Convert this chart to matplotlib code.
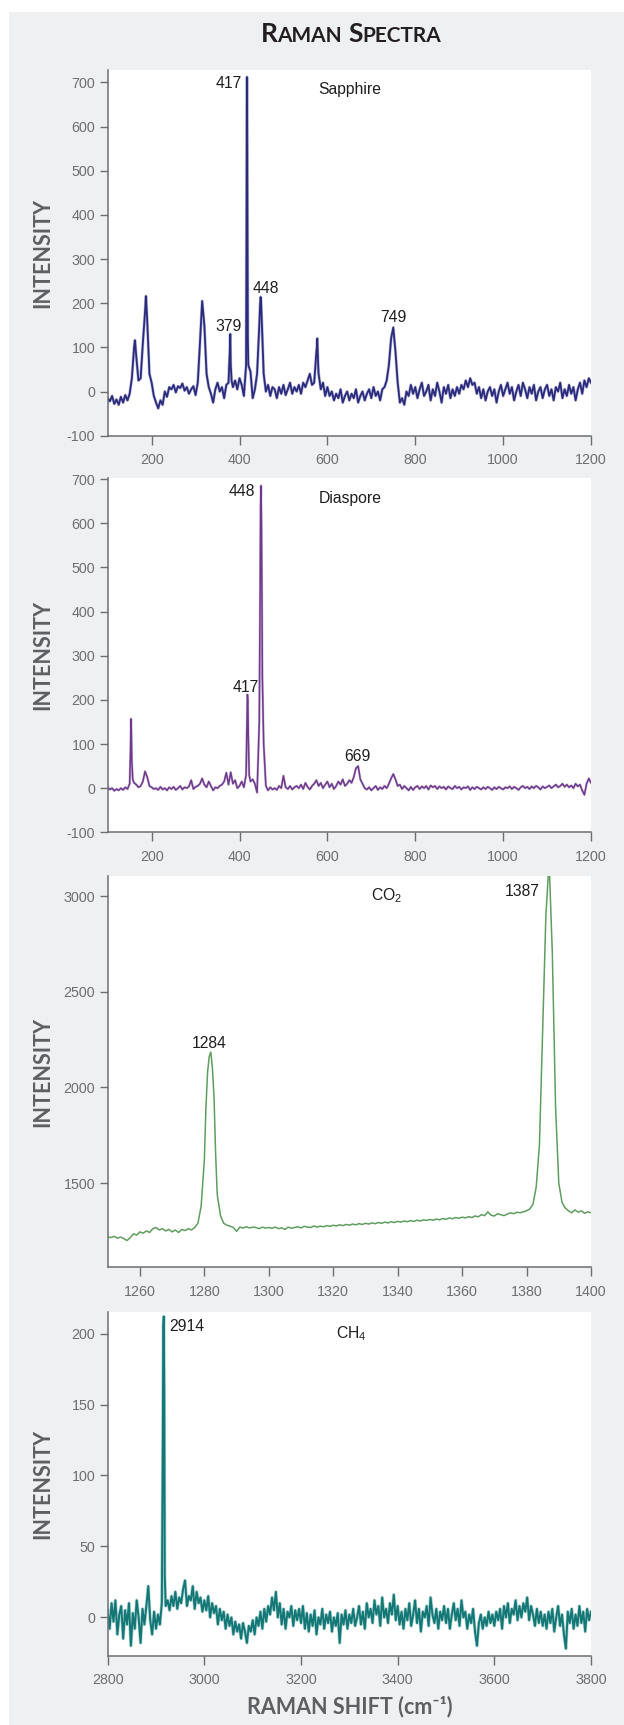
import numpy as np
import matplotlib
matplotlib.use('Agg')
import matplotlib.pyplot as plt
from matplotlib.patches import Rectangle

plt.rcParams['font.family'] = ['Liberation Sans', 'DejaVu Sans']
plt.rcParams['axes.unicode_minus'] = False

# ---- Sapphire (grid every 5 cm-1, plus extra points on the sharp peaks)
sapphire_shift = np.arange(100, 1201, 5)
sapphire_int = [
    -15, -22, -10, -28, -18, -30, -12, -25, -8, -20, -5, 30, 100, 80, 25, 30, 110, 180, 160, 40,
    20, -10, -25, -38, -20, -30, 0, -12, 10, 5, 15, -2, 12, 8, 18, 2, 10, -5, 5, 12,
    -8, 20, 110, 205, 150, 40, 10, -5, -25, 5, 20, 0, 10, -15, 15, 20, 60, 10, 25, 5,
    30, 15, -10, 60, 60, 45, -15, 5, 40, 150, 180, 40, 0, 15, -10, 10, 5, -15, 10, -5,
    15, -8, 5, 20, -5, 10, 0, 15, -5, 20, 10, 25, 40, 15, 20, 90, 40, 5, 20, -10,
    10, -10, 0, -20, -5, -15, 5, -25, -10, 0, -20, -5, -15, 5, -25, -10, 0, -20, -5, 5,
    -15, 10, -10, 0, -20, 5, 10, 25, 60, 120, 145, 90, 20, -25, -15, -30, 0, -10, 15, -5,
    10, -15, 5, 20, -10, 0, 15, -20, 5, -10, 20, 0, -25, 10, -5, 15, -15, 5, -10, 10,
    -5, 15, 5, 25, 10, 30, 15, 20, -5, 10, -15, 5, -20, 0, 10, -10, 5, -25, 0, 15,
    -10, 5, 20, -5, 10, -20, 0, 15, -10, 20, 5, -15, 10, -5, 15, -20, 0, 10, -15, 5,
    15, -10, 5, -20, 10, 0, 20, -15, 5, -10, 15, -5, 10, -20, 5, 20, -5, 25, 10, 30, 20,
]
sapphire_peak_shift = [162, 187, 378, 379, 382, 416, 417, 418, 419, 447, 448, 449, 576, 577, 579]
sapphire_peak_int = [116, 216, 95, 130, 25, 350, 712, 400, 120, 200, 214, 205, 100, 120, 60]

# ---- Diaspore
diaspore_shift = np.arange(100, 1201, 5)
diaspore_int = [
    2, -3, 0, -6, -2, -5, 0, -4, 2, -2, 10, 60, 12, 8, 2, 5, 15, 38, 25, 5,
    2, -2, 0, -4, 3, -3, 0, -5, 2, -2, 3, -4, 0, 5, -3, 2, 0, 4, 18, -2,
    3, 5, 10, 22, 8, 2, 15, 5, -5, 2, 0, 5, 8, 15, 35, 8, 36, 10, 18, 0,
    5, 15, 2, 30, 120, 15, 20, 10, -10, 150, 600, 100, 5, -5, 2, -3, 0, -4, 5, 0,
    28, 2, -2, 5, -3, 2, 5, 0, 8, -2, 12, 3, -3, 5, 10, 18, 5, 12, 0, 8,
    15, 2, 10, -2, 5, 15, 8, 20, 5, 10, 18, 12, 25, 45, 50, 20, 10, 0, -3, 2,
    -5, 0, 5, -4, 2, -2, 5, 0, 10, 22, 32, 20, 5, 8, -2, 5, 0, -5, 3, -4,
    2, 5, -2, 4, 0, 5, -3, 6, 2, 5, -2, 4, 0, 3, -3, 4, 0, -2, 5, 0,
    3, -3, 2, 0, 4, -4, 2, -2, 3, 0, -3, 2, -2, 3, 0, -4, 2, -2, 3, 0,
    -3, 2, 0, 4, -2, 3, 0, -4, 2, 5, 0, 3, -2, 4, 0, 5, 2, -3, 4, 0,
    3, 6, 0, 4, 8, 2, 5, 10, 3, 8, 2, 6, 0, 10, 4, 8, -5, -15, 10, 22, 12,
]
diaspore_peak_shift = [152, 153, 154, 157, 416, 418, 419, 422, 447, 448, 449, 451, 452]
diaspore_peak_int = [90, 157, 120, 20, 90, 212, 200, 30, 450, 640, 685, 450, 250]

# ---- CO2 (grid every 1 cm-1)
co2_shift = np.arange(1250, 1401, 1)
co2_int = [
    1220, 1215, 1222, 1212, 1218, 1210, 1200, 1215, 1235, 1228,
    1245, 1238, 1250, 1242, 1262, 1268, 1255, 1262, 1250, 1258,
    1245, 1255, 1242, 1258, 1252, 1262, 1255, 1268, 1290, 1380,
    1620, 2080, 2185, 1950, 1440, 1330, 1290, 1280, 1275, 1268,
    1248, 1270, 1265, 1272, 1266, 1270, 1268, 1262, 1270, 1265,
    1268, 1264, 1270, 1262, 1266, 1258, 1270, 1264, 1268, 1272,
    1266, 1274, 1270, 1268, 1276, 1270, 1275, 1272, 1278, 1274,
    1280, 1276, 1282, 1278, 1284, 1280, 1286, 1282, 1288, 1284,
    1290, 1286, 1292, 1288, 1294, 1290, 1296, 1292, 1298, 1294,
    1300, 1296, 1302, 1298, 1304, 1300, 1306, 1302, 1308, 1305,
    1310, 1306, 1312, 1308, 1315, 1311, 1318, 1314, 1320, 1316,
    1322, 1318, 1325, 1320, 1328, 1324, 1335, 1330, 1350, 1332,
    1328, 1340, 1335, 1330, 1338, 1345, 1340, 1348, 1345, 1350,
    1355, 1365, 1390, 1480, 1700, 2300, 2900, 3180, 2700, 1900,
    1500, 1400, 1370, 1355, 1345, 1360, 1348, 1355, 1342, 1350,
    1345,
]
co2_peak_shift = [1280.5, 1281.5, 1282.5, 1283.5]
co2_peak_int = [1900, 2160, 2100, 1650]

# ---- CH4 (grid every 4 cm-1)
ch4_shift = np.arange(2800, 3801, 4)
ch4_int = [
    5, -8, 10, -3, 12, -12, 2, 8, -15, 5, -5, 10, -20, 3, -8, 12, 0, -18, 6, -5, 8, 22, -2, -12, 4,
    -8, 2, -5, 10, 212, 8, 12, 5, 15, 8, 18, 6, 14, 10, 20, 26, 8, 15, 12, 22, 6, 18, 10, 14, 4,
    12, 5, 15, 0, 10, 3, 8, -5, 6, -2, 4, -8, 2, -6, 0, -12, -3, -10, -5, -15, -4, -10, -18, -6, -10,
    -2, -12, 0, -6, 4, -8, 6, -3, 8, 2, 14, 5, 18, 0, 10, -5, 6, -8, 4, 0, 8, -6, 5, -2, 6,
    -4, 8, -8, 3, -10, 2, -6, 5, -12, 0, -5, 6, -8, 2, -4, 4, -10, 0, -6, 3, -18, 2, -5, 5, -8,
    2, -4, 6, -6, 0, 8, -5, 4, -8, 10, 0, 6, -4, 12, 2, 8, -6, 14, 0, 6, -4, 10, 2, 16, -2,
    8, -5, 4, -8, 6, -2, 10, -6, 2, 12, -4, 6, -10, 4, 0, 8, -6, 14, 2, -4, 6, -8, 4, -2, 8,
    -4, 6, -8, 2, 10, -2, 6, -6, 12, 0, 4, -8, 2, -4, 6, -10, -20, -4, 2, -8, 0, -6, 4, -4, 2,
    -6, 4, -2, 6, -8, 8, 0, 10, -4, 6, 2, 12, -2, 8, 0, 10, 4, 14, -2, 8, 2, -6, 6, -4, 4,
    -6, 2, -8, 4, -4, 6, -10, 0, 8, -6, 2, -12, -22, 4, -4, 6, -8, 2, -6, 8, -4, 4, -10, 6, -2,
    4,
]
ch4_peak_shift = [2914, 2915, 2917, 2918]
ch4_peak_int = [120, 205, 160, 30]


def merge(xg, yg, xe, ye):
    x = np.concatenate([np.asarray(xg, float), np.asarray(xe, float)])
    y = np.concatenate([np.asarray(yg, float), np.asarray(ye, float)])
    order = np.argsort(x, kind='stable')
    return x[order], y[order]


W, H = 624, 1725
fig = plt.figure(figsize=(W / 100, H / 100), dpi=100)
fig.patch.set_facecolor('white')
fig.patches.append(Rectangle((9 / W, 0), 1 - 9 / W, 1 - 12 / H, transform=fig.transFigure,
                             facecolor='#eff0f2', edgecolor='none', zorder=-10))

axis_gray = '#6d6e71'
left, width = 107.7 / W, (591 - 107.7) / W


def make_axes(top_px, bottom_px):
    ax = fig.add_axes([left, 1 - bottom_px / H, width, (bottom_px - top_px) / H])
    ax.set_facecolor('white')
    for s in ['top', 'right']:
        ax.spines[s].set_visible(False)
    for s in ['left', 'bottom']:
        ax.spines[s].set_color(axis_gray)
        ax.spines[s].set_linewidth(1.1)
    ax.tick_params(axis='both', direction='out', color=axis_gray, labelcolor=axis_gray,
                   labelsize=10.3, width=1.0)
    ax.tick_params(axis='y', length=6, pad=3)
    ax.tick_params(axis='x', length=6.5, pad=6)
    # y label
    fig.text(42.3 / W, 1 - (top_px + bottom_px) / 2 / H, 'INTENSITY', rotation=90,
             ha='center', va='center', fontsize=15.5, fontweight='bold',
             family=['Lato', 'DejaVu Sans'], color='#5e5f63')
    return ax


def label(ax, x, y, s, ha='center'):
    ax.text(x, y, s, ha=ha, va='baseline', fontsize=11.3, color='#1e1e1e')


# Panel 1 - Sapphire
ax1 = make_axes(70, 435.7)
x, y = merge(sapphire_shift, sapphire_int, sapphire_peak_shift, sapphire_peak_int)
ax1.plot(x, y, color='#6a6ab5', lw=2.2, alpha=0.45, solid_joinstyle='round')
ax1.plot(x, y, color='#2b2b7c', lw=1.3)
ax1.set_xlim(100, 1200)
ax1.set_ylim(-100, 728)
ax1.set_xticks([200, 400, 600, 800, 1000, 1200])
ax1.set_yticks(range(-100, 701, 100))
label(ax1, 406, 688, '417', 'right')
label(ax1, 580, 673, 'Sapphire', 'left')
label(ax1, 429, 222, '448', 'left')
label(ax1, 404, 138, '379', 'right')
label(ax1, 751, 158, '749')

# Panel 2 - Diaspore
ax2 = make_axes(478.3, 832.3)
x, y = merge(diaspore_shift, diaspore_int, diaspore_peak_shift, diaspore_peak_int)
ax2.plot(x, y, color='#9a72b5', lw=1.8, alpha=0.45)
ax2.plot(x, y, color='#6e3a8c', lw=1.1)
ax2.set_xlim(100, 1200)
ax2.set_ylim(-100, 702)
ax2.set_xticks([200, 400, 600, 800, 1000, 1200])
ax2.set_yticks(range(-100, 701, 100))
label(ax2, 436, 661, '448', 'right')
label(ax2, 443, 217, '417', 'right')
label(ax2, 580, 646, 'Diaspore', 'left')
label(ax2, 668, 62, '669')

# Panel 3 - CO2
ax3 = make_axes(876, 1267.3)
x, y = merge(co2_shift, co2_int, co2_peak_shift, co2_peak_int)
ax3.plot(x, y, color='#5e9e5e', lw=1.1)
ax3.set_xlim(1250, 1400)
ax3.set_ylim(1060, 3105)
ax3.set_xticks(range(1260, 1401, 20))
ax3.set_yticks([1500, 2000, 2500, 3000])
label(ax3, 1281.6, 2204, '1284')
label(ax3, 1384, 2999, '1387', 'right')
label(ax3, 1331.6, 2979, r'CO$_\mathregular{2}$', 'left')

# Panel 4 - CH4
ax4 = make_axes(1312.3, 1655.7)
x, y = merge(ch4_shift, ch4_int, ch4_peak_shift, ch4_peak_int)
ax4.plot(x, y, color='#5aa8a6', lw=2.4, alpha=0.5, solid_joinstyle='round')
ax4.plot(x, y, color='#137775', lw=1.4)
ax4.set_xlim(2800, 3800)
ax4.set_ylim(-27, 215)
ax4.set_xticks(range(2800, 3801, 200))
ax4.set_yticks([0, 50, 100, 150, 200])
label(ax4, 2927, 202, '2914', 'left')
label(ax4, 3272, 197, r'CH$_\mathregular{4}$', 'left')

# x axis title
fig.text(350 / W, 1 - 1707 / H, 'RAMAN SHIFT (cm\u207b\u00b9)', ha='center', va='center',
         fontsize=15.5, fontweight='bold', family=['Lato', 'DejaVu Sans'], color='#5e5f63')

# small-caps title
renderer = fig.canvas.get_renderer()
parts = [('R', 19), ('AMAN', 15), (' ', 15), ('S', 19), ('PECTRA', 15)]
base_y = 1 - 42 / H
pieces = []
for s, size in parts:
    t = fig.text(0, base_y, s, fontsize=size, fontweight='bold', family=['Lato', 'DejaVu Sans'],
                 color='#231f20', ha='left', va='baseline')
    pieces.append(t)
widths = []
for (s, size), t in zip(parts, pieces):
    if s == ' ':
        widths.append(size * 0.3 * 100 / 72)
    else:
        widths.append(t.get_window_extent(renderer).width)
pos = 351 - sum(widths) / 2
for t, w in zip(pieces, widths):
    t.set_x(pos / W)
    pos += w

fig.savefig('out.png', dpi=100)
